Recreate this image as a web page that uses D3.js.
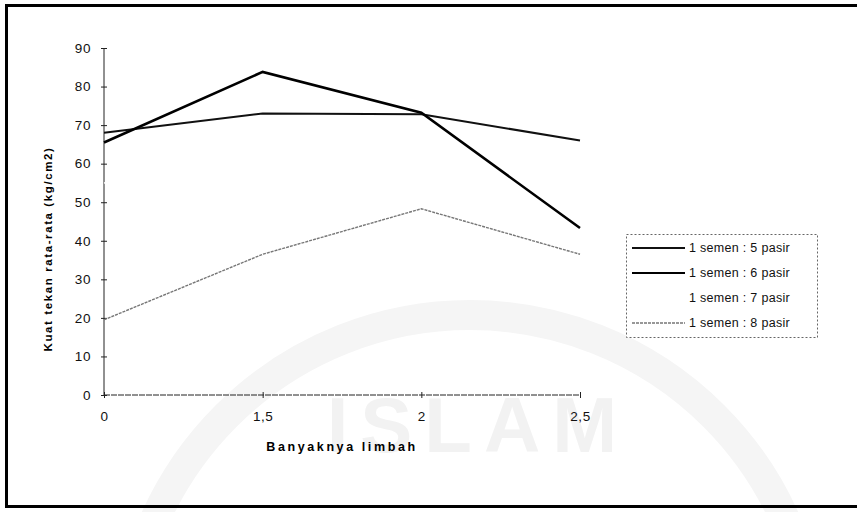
<!DOCTYPE html>
<html lang="en">
<head>
<meta charset="UTF-8">
<script src="https://d3js.org/d3.v7.min.js"></script>
<style>
body { margin: 0; background: #fff; }
svg { display: block; font-family: "Liberation Sans", Arial, sans-serif; }
.axis text { font-size: 13.5px; fill: #111; letter-spacing: 0.6px; }
.axis path, .axis line { stroke: #222; stroke-width: 1; }
.legend text { font-size: 12.5px; fill: #111; letter-spacing: 0.3px; }
</style>
</head>
<body>
<div id="chart"></div>
<script>
// data
const categories = ["0", "1,5", "2", "2,5"];
const seriesNames = ["1 semen : 5 pasir", "1 semen : 6 pasir", "1 semen : 7 pasir", "1 semen : 8 pasir"];
const pasir5 = [68.0, 73.0, 72.8, 66.0];
const pasir6 = [65.5, 83.8, 73.2, 43.3];
const pasir7 = [55.0, 60.0, 57.0, 50.0]; // drawn white in the scan, not readable
const pasir8 = [19.5, 36.5, 48.3, 36.5];
const yTicks = [0, 10, 20, 30, 40, 50, 60, 70, 80, 90];

const width = 857, height = 512;

const svg = d3.select("#chart").append("svg")
  .attr("width", width)
  .attr("height", height);

// faint watermark from the scan
const wm = svg.append("g").attr("fill", "none");
wm.append("circle").attr("cx", 470).attr("cy", 660).attr("r", 345)
  .attr("stroke", "#f5f5f5").attr("stroke-width", 30);
wm.append("text").attr("x", 478).attr("y", 452).attr("text-anchor", "middle")
  .attr("fill", "#f2f2f2").style("font-size", "78px").style("font-weight", "bold")
  .style("letter-spacing", "12px").text("ISLAM");

// outer frame
svg.append("rect").attr("x", 6.5).attr("y", 5.5).attr("width", 870).attr("height", 501)
  .attr("fill", "none").attr("stroke", "#000").attr("stroke-width", 3);

const x = d3.scalePoint().domain(categories).range([104, 580]);
const y = d3.scaleLinear().domain([0, 90]).range([395, 48]);

// y axis
const yAxis = svg.append("g").attr("class", "axis")
  .attr("transform", "translate(104,0)")
  .call(d3.axisLeft(y).tickValues(yTicks).tickSize(4).tickPadding(9));
yAxis.selectAll(".tick line").attr("x1", -3).attr("x2", 3);
yAxis.select(".domain").attr("d", "M0," + y(90) + "V" + y(0));

// x axis
const xAxis = svg.append("g").attr("class", "axis")
  .attr("transform", "translate(0,395)")
  .call(d3.axisBottom(x).tickSize(4).tickPadding(12));
xAxis.selectAll(".tick line").attr("y1", -3).attr("y2", 3);
xAxis.select(".domain").attr("d", "M" + x(categories[0]) + ",0H" + x(categories[3]))
  .attr("stroke-dasharray", "6,1");

// axis titles
svg.append("text")
  .attr("x", 342).attr("y", 451)
  .attr("text-anchor", "middle")
  .style("font-size", "12.5px").style("font-weight", "bold").style("letter-spacing", "2.6px")
  .text("Banyaknya limbah");

svg.append("text")
  .attr("transform", "translate(52,249) rotate(-90)")
  .attr("text-anchor", "middle")
  .style("font-size", "11.5px").style("font-weight", "bold").style("letter-spacing", "1.6px")
  .text("Kuat tekan rata-rata (kg/cm2)");

// series (the white one goes first so it never covers the others)
const styles = [
  { color: "#111", width: 2, dash: null },
  { color: "#000", width: 2.6, dash: null },
  { color: "#ffffff", width: 1.5, dash: null },
  { color: "#777", width: 1.4, dash: "3,1" }
];
const series = [pasir5, pasir6, pasir7, pasir8];
const drawOrder = [2, 3, 0, 1];

const line = d3.line()
  .x((d, i) => x(categories[i]))
  .y(d => y(d));

svg.append("g").selectAll("path")
  .data(drawOrder)
  .join("path")
  .attr("d", k => line(series[k]))
  .attr("fill", "none")
  .attr("stroke", k => styles[k].color)
  .attr("stroke-width", k => styles[k].width)
  .attr("stroke-dasharray", k => styles[k].dash)
  .attr("stroke-linejoin", "miter");

// legend
const legend = svg.append("g").attr("class", "legend");
legend.append("rect")
  .attr("x", 626.5).attr("y", 234.5).attr("width", 191).attr("height", 103)
  .attr("fill", "#fff").attr("stroke", "#666").attr("stroke-dasharray", "2,2");

const rows = legend.selectAll("g.row")
  .data(seriesNames)
  .join("g")
  .attr("class", "row")
  .attr("transform", (d, i) => "translate(0," + (248 + i * 25) + ")");

rows.append("line")
  .attr("x1", 632).attr("x2", 685)
  .attr("stroke", (d, i) => styles[i].color)
  .attr("stroke-width", (d, i) => Math.min(styles[i].width, 1.8))
  .attr("stroke-dasharray", (d, i) => styles[i].dash);

rows.append("text")
  .attr("x", 689).attr("dy", "0.35em")
  .text(d => d);
</script>
</body>
</html>
